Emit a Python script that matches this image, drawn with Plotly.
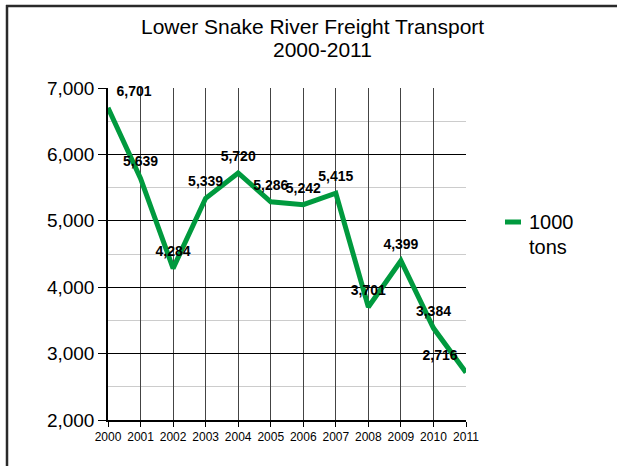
import plotly.graph_objects as go

years = [2000, 2001, 2002, 2003, 2004, 2005, 2006, 2007, 2008, 2009, 2010, 2011]
tons_1000 = [6701, 5639, 4284, 5339, 5720, 5286, 5242, 5415, 3701, 4399, 3384, 2716]
labels = [f"{v:,}" for v in tons_1000]
positions = ["top right"] + ["top center"] * 10 + ["top left"]

W, H = 617, 466
L, R, T, B = 108, 466, 88, 420
pw, ph = R - L, B - T

def px(x):
    return (x - L) / pw

def py(y):
    return (B - y) / ph

FONT = "Liberation Sans, Arial, sans-serif"
GREEN = "#009a3e"

fig = go.Figure()
fig.add_trace(go.Scatter(
    x=years, y=tons_1000, mode="lines+markers+text",
    line=dict(color=GREEN, width=5),
    marker=dict(size=12, color="rgba(0,0,0,0)"),
    text=labels, textposition=positions,
    textfont=dict(family=FONT, size=14, color="black", weight="bold"),
    name="1000 tons", showlegend=False, cliponaxis=False, hoverinfo="skip",
))

fig.update_layout(
    width=W, height=H,
    margin=dict(l=L, r=W - R, t=T, b=H - B),
    paper_bgcolor="white", plot_bgcolor="white",
    font=dict(family=FONT, color="black"),
    xaxis=dict(
        range=[2000, 2011], tickvals=years, ticktext=[str(y) for y in years],
        showgrid=True, gridcolor="#444", gridwidth=1,
        showline=True, linecolor="black", linewidth=1.5,
        ticks="outside", ticklen=5, tickcolor="black",
        tickfont=dict(size=12, family=FONT), zeroline=False,
    ),
    yaxis=dict(
        range=[2000, 7000], dtick=1000, tick0=0, tickformat=",",
        showgrid=True, gridcolor="black", gridwidth=1,
        minor=dict(dtick=500, showgrid=True, gridcolor="#cccccc", gridwidth=1),
        showline=True, linecolor="black", linewidth=1.5,
        ticks="outside", ticklen=8, tickcolor="black",
        tickfont=dict(size=19, family=FONT), zeroline=False,
    ),
    shapes=[
        dict(type="line", xref="paper", yref="paper", x0=px(6), x1=px(W), y0=py(6), y1=py(6),
             line=dict(color="#2a2a2a", width=2.5)),
        dict(type="line", xref="paper", yref="paper", x0=px(7), x1=px(7), y0=py(5), y1=py(H),
             line=dict(color="#2a2a2a", width=2.5)),
        dict(type="line", xref="paper", yref="paper", x0=px(505), x1=px(521), y0=py(222), y1=py(222),
             line=dict(color=GREEN, width=5)),
    ],
    annotations=[
        dict(text="Lower Snake River Freight Transport", xref="paper", yref="paper",
             x=px(312), y=py(27), showarrow=False, font=dict(size=21, family=FONT),
             xanchor="center", yanchor="middle"),
        dict(text="2000-2011", xref="paper", yref="paper",
             x=px(322), y=py(50), showarrow=False, font=dict(size=21, family=FONT),
             xanchor="center", yanchor="middle"),
        dict(text="1000", xref="paper", yref="paper", x=px(527), y=py(222), showarrow=False,
             font=dict(size=20, family=FONT), xanchor="left", yanchor="middle"),
        dict(text="tons", xref="paper", yref="paper", x=px(527), y=py(247), showarrow=False,
             font=dict(size=20, family=FONT), xanchor="left", yanchor="middle"),
    ],
)

fig.write_html("out.html", config={"displayModeBar": False},
               post_script="document.body.style.margin='0';")
